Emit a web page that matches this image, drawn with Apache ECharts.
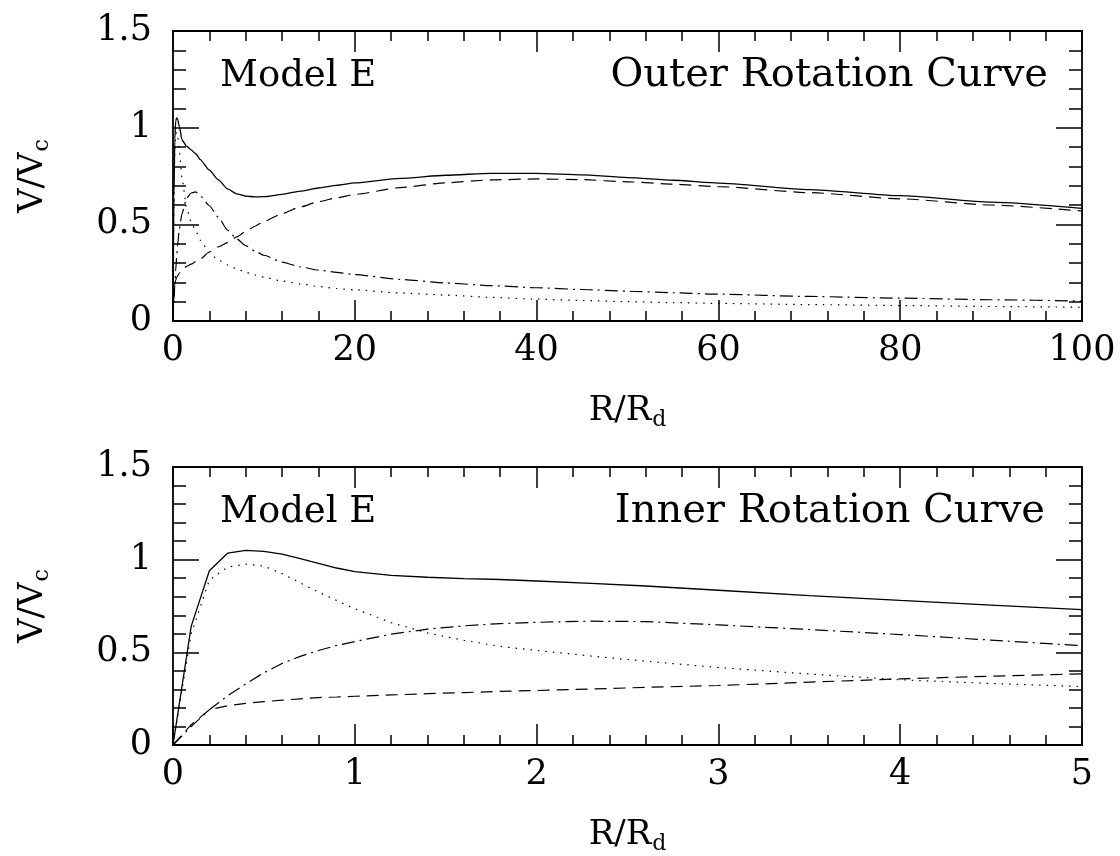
<!DOCTYPE html>
<html>
<head>
<meta charset="utf-8">
<script src="https://cdn.jsdelivr.net/npm/echarts@6/dist/echarts.min.js"></script>
<style>
html,body{margin:0;padding:0;background:#fff;}
#chart{width:1120px;height:856px;}
</style>
</head>
<body>
<div id="chart"></div>
<script>
// ---------- Outer rotation curve (top panel), R/Rd from 0 to 100 ----------
const outerR =       [0, 0.1, 0.2, 0.3, 0.4, 0.5, 0.7, 1, 1.5, 2, 2.5, 3, 4, 5, 6, 7, 8, 9, 10, 12, 14, 16, 18, 20, 25, 30, 35, 40, 45, 50, 55, 60, 70, 80, 90, 100];
const outerTotal =   [0, 0.64, 0.94, 1.035, 1.05, 1.045, 1.005, 0.935, 0.905, 0.885, 0.865, 0.835, 0.78, 0.73, 0.683, 0.658, 0.646, 0.642, 0.643, 0.655, 0.672, 0.688, 0.702, 0.714, 0.738, 0.754, 0.764, 0.764, 0.756, 0.742, 0.728, 0.713, 0.68, 0.648, 0.615, 0.583];
const outerDashed =  [0, 0.11, 0.19, 0.212, 0.225, 0.234, 0.247, 0.263, 0.283, 0.294, 0.307, 0.321, 0.357, 0.384, 0.405, 0.435, 0.463, 0.49, 0.515, 0.555, 0.59, 0.617, 0.637, 0.655, 0.69, 0.715, 0.73, 0.735, 0.731, 0.72, 0.708, 0.695, 0.664, 0.632, 0.6, 0.569];
const outerDashDot = [0, 0.1, 0.19, 0.265, 0.33, 0.39, 0.478, 0.558, 0.636, 0.662, 0.668, 0.648, 0.596, 0.536, 0.47, 0.425, 0.39, 0.362, 0.34, 0.305, 0.28, 0.263, 0.252, 0.24, 0.215, 0.197, 0.183, 0.172, 0.163, 0.154, 0.146, 0.139, 0.127, 0.118, 0.11, 0.103];
const outerDotted =  [0, 0.6, 0.89, 0.96, 0.976, 0.965, 0.875, 0.735, 0.585, 0.51, 0.465, 0.418, 0.352, 0.315, 0.29, 0.27, 0.252, 0.238, 0.226, 0.207, 0.192, 0.178, 0.168, 0.161, 0.145, 0.134, 0.122, 0.113, 0.106, 0.1, 0.095, 0.091, 0.085, 0.08, 0.075, 0.071];

// ---------- Inner rotation curve (bottom panel), R/Rd from 0 to 5 ----------
const innerR =       [0, 0.1, 0.2, 0.3, 0.4, 0.5, 0.6, 0.7, 0.8, 0.9, 1.0, 1.2, 1.4, 1.6, 1.8, 2.0, 2.3, 2.6, 3.0, 3.5, 4.0, 4.5, 5.0];
const innerTotal =   [0, 0.64, 0.94, 1.035, 1.05, 1.045, 1.03, 1.005, 0.98, 0.955, 0.935, 0.915, 0.905, 0.898, 0.893, 0.885, 0.872, 0.858, 0.835, 0.806, 0.78, 0.755, 0.73];
const innerDashed =  [0, 0.11, 0.19, 0.212, 0.225, 0.234, 0.242, 0.249, 0.256, 0.259, 0.263, 0.27, 0.277, 0.283, 0.289, 0.294, 0.302, 0.311, 0.321, 0.339, 0.357, 0.371, 0.384];
const innerDashDot = [0, 0.1, 0.19, 0.265, 0.33, 0.39, 0.44, 0.478, 0.51, 0.537, 0.558, 0.598, 0.625, 0.643, 0.655, 0.662, 0.668, 0.666, 0.648, 0.623, 0.596, 0.566, 0.536];
const innerDotted =  [0, 0.6, 0.89, 0.96, 0.976, 0.965, 0.925, 0.875, 0.825, 0.78, 0.735, 0.66, 0.605, 0.565, 0.532, 0.51, 0.48, 0.452, 0.418, 0.383, 0.352, 0.332, 0.315];

// ---------- Axis settings / labels ----------
const outerXMax = 100, outerXStep = 20;
const innerXMax = 5, innerXStep = 1;
const yMax = 1.5, yStep = 0.5;
const panelTitlesLeft = ['Model E', 'Model E'];
const panelTitlesRight = ['Outer Rotation Curve', 'Inner Rotation Curve'];

const FONT = 'DejaVu Serif';
const BLACK = '#000';

function zip(xs, ys) { return xs.map((x, i) => [x, ys[i]]); }

const richName = {
  a: { fontFamily: FONT, fontSize: 34, color: BLACK, lineHeight: 40 },
  s: { fontFamily: FONT, fontSize: 22, color: BLACK, lineHeight: 24, verticalAlign: 'bottom', padding: [0, 0, 0, 1] }
};

function xAxes(gi, max, step) {
  const common = {
    type: 'value', gridIndex: gi, min: 0, max: max, interval: step,
    axisLine: { show: true, onZero: false, lineStyle: { color: BLACK, width: 1.8 } },
    axisTick: { show: true, inside: true, length: 21, lineStyle: { color: BLACK, width: 1.5 } },
    minorTick: { show: true, splitNumber: 5, length: 10, lineStyle: { color: BLACK, width: 1.5 } },
    splitLine: { show: false }, minorSplitLine: { show: false }
  };
  return [
    Object.assign({}, common, {
      position: 'bottom',
      axisLabel: { color: BLACK, fontFamily: FONT, fontSize: 35, margin: 12, showMinLabel: true, showMaxLabel: true },
      name: '{a|R/R}{s|d}', nameLocation: 'middle', nameGap: 70,
      nameTextStyle: { rich: richName }
    }),
    Object.assign({}, common, { position: 'top', axisLabel: { show: false } })
  ];
}

function yAxes(gi) {
  const common = {
    type: 'value', gridIndex: gi, min: 0, max: yMax, interval: yStep,
    axisLine: { show: true, onZero: false, lineStyle: { color: BLACK, width: 1.8 } },
    axisTick: { show: true, inside: true, length: 26, lineStyle: { color: BLACK, width: 1.5 } },
    minorTick: { show: true, splitNumber: 5, length: 13, lineStyle: { color: BLACK, width: 1.5 } },
    splitLine: { show: false }, minorSplitLine: { show: false }
  };
  return [
    Object.assign({}, common, {
      position: 'left',
      axisLabel: { color: BLACK, fontFamily: FONT, fontSize: 35, margin: 21, showMinLabel: true, showMaxLabel: true },
      name: '{a|V/V}{s|c}', nameLocation: 'middle', nameGap: 120, nameRotate: 90,
      nameTextStyle: { rich: richName }
    }),
    Object.assign({}, common, { position: 'right', axisLabel: { show: false } })
  ];
}

const styles = [
  { key: 'total', type: 'solid' },
  { key: 'dashed', type: [12, 7] },
  { key: 'dashdot', type: [13, 5, 2, 5] },
  { key: 'dotted', type: [1.5, 6] }
];

function panelSeries(gi, xs, sets, smooth) {
  return sets.map((ys, k) => ({
    type: 'line', xAxisIndex: gi * 2, yAxisIndex: gi * 2,
    data: zip(xs, ys), showSymbol: false, symbol: 'none', silent: true,
    smooth: smooth, smoothMonotone: 'x', clip: true,
    lineStyle: { color: BLACK, width: k === 0 ? 1.3 : 1.2, type: styles[k].type }
  }));
}

const leftTitleStyle = { fontFamily: FONT, fontSize: 37, fontWeight: 'normal', color: BLACK };
const rightTitleStyle = { fontFamily: FONT, fontSize: 40, fontWeight: 'normal', color: BLACK };

const option = {
  backgroundColor: '#fff',
  animation: false,
  title: [
    { text: panelTitlesLeft[0], left: 220, top: 58, padding: 0, textStyle: leftTitleStyle },
    { text: panelTitlesRight[0], right: 72, top: 56, padding: 0, textStyle: rightTitleStyle },
    { text: panelTitlesLeft[1], left: 220, top: 494, padding: 0, textStyle: leftTitleStyle },
    { text: panelTitlesRight[1], right: 75, top: 492, padding: 0, textStyle: rightTitleStyle }
  ],
  grid: [
    { left: 173, top: 31, width: 909, height: 290, containLabel: false },
    { left: 173, top: 467, width: 909, height: 290, containLabel: false }
  ],
  xAxis: [].concat(xAxes(0, outerXMax, outerXStep), xAxes(1, innerXMax, innerXStep)),
  yAxis: [].concat(yAxes(0), yAxes(1)),
  series: [].concat(
    panelSeries(0, outerR, [outerTotal, outerDashed, outerDashDot, outerDotted], 0.2),
    panelSeries(1, innerR, [innerTotal, innerDashed, innerDashDot, innerDotted], false)
  )
};

const chart = echarts.init(document.getElementById('chart'), null, { renderer: 'canvas' });
chart.setOption(option);
</script>
</body>
</html>
